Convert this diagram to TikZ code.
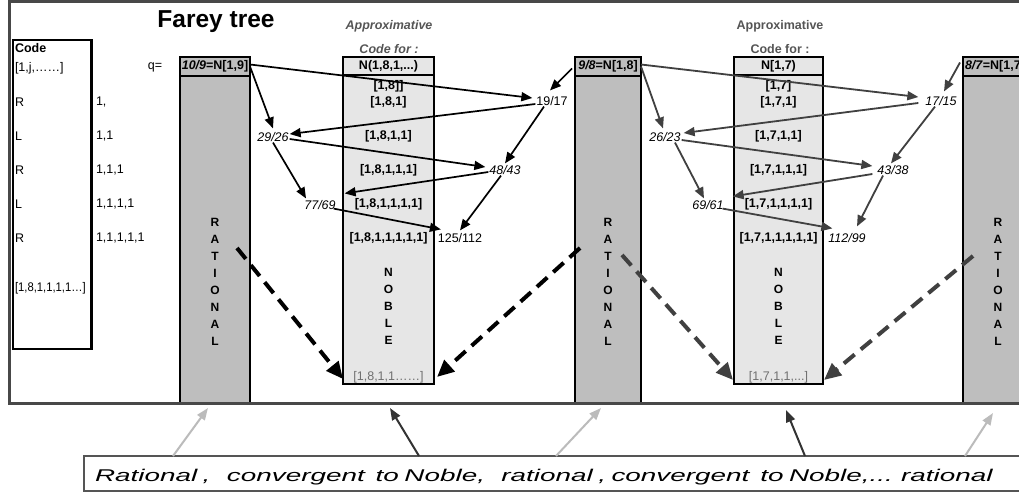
\documentclass[tikz,border=0pt]{standalone}
\usepackage{fontspec}
\setmainfont{Liberation Sans}
\usetikzlibrary{arrows.meta}

\definecolor{ratfill}{HTML}{BEBEBE}
\definecolor{noblefill}{HTML}{E6E6E6}
\definecolor{framegray}{HTML}{484848}
\definecolor{darkline}{HTML}{404040}
\definecolor{lightarrow}{HTML}{BBBBBB}
\definecolor{capdark}{HTML}{333333}
\definecolor{labelgray}{HTML}{555555}
\definecolor{limitgray}{HTML}{707070}

\newcommand{\fs}[1]{\fontsize{#1}{#1}\selectfont}

\begin{document}
\begin{tikzpicture}[x=1pt,y=-1pt,
  every node/.style={inner sep=0pt, outer sep=0pt},
  ratbox/.style={draw=black, line width=2pt, fill=ratfill, anchor=north west},
  noblebox/.style={draw=black, line width=2.5pt, fill=noblefill, anchor=north west},
  codetext/.style={anchor=west, font=\fs{12.5}},
  cell/.style={font=\fs{12.5}\bfseries},
  frac/.style={font=\fs{12.5}, inner sep=1pt},
  ifrac/.style={font=\fs{12.5}\itshape, inner sep=1pt},
  vword/.style={font=\fontsize{12}{17}\selectfont\bfseries, align=center},
  headlabel/.style={font=\fs{12.5}\bfseries, text=labelgray},
  link/.style={draw=black, line width=1.7pt, -{Triangle[length=11pt,width=9pt]}},
  linkgray/.style={draw=darkline, line width=1.8pt, -{Triangle[length=11pt,width=9pt]}},
  flow/.style={line width=4pt, dash pattern=on 14pt off 8pt, -{Triangle[length=17pt,width=15pt]}},
  pointer/.style={line width=2pt, -{Triangle[length=12pt,width=9pt]}},
]
\useasboundingbox (0,0) rectangle (1019,495);
\clip (0,0) rectangle (1019,495);
\fill[white] (0,0) rectangle (1019,495);

% ---------- rational columns ----------
\node[ratbox, minimum width=70pt, minimum height=328pt] (r1) at (180,76) {};
\node[ratbox, minimum width=66pt, minimum height=328pt] (r2) at (575,76) {};
\node[ratbox, minimum width=100pt, minimum height=328pt] (r3) at (963,76) {};
\node[ratbox, minimum width=70pt, minimum height=19pt] (r1h) at (180,57) {};
\node[ratbox, minimum width=66pt, minimum height=19pt] (r2h) at (575,57) {};
\node[ratbox, minimum width=100pt, minimum height=19pt] (r3h) at (963,57) {};
\node[cell] (r1t) at (215,66.5) {\textit{10/9}=N[1,9]};
\node[cell] (r2t) at (608,66.5) {\textit{9/8}=N[1,8]};
\node[cell, anchor=west] (r3t) at (965,66.5) {\textit{8/7}=N[1,7]};
\node[vword] (r1w) at (215,282) {R\\A\\T\\I\\O\\N\\A\\L};
\node[vword] (r2w) at (608,282) {R\\A\\T\\I\\O\\N\\A\\L};
\node[vword] (r3w) at (998,282) {R\\A\\T\\I\\O\\N\\A\\L};

% ---------- noble columns ----------
\node[noblebox, minimum width=91pt, minimum height=309pt] (n1) at (343,75) {};
\node[noblebox, minimum width=89pt, minimum height=309pt] (n2) at (734,75) {};
\node[noblebox, minimum width=91pt, minimum height=18pt] (n1h) at (343,57) {};
\node[noblebox, minimum width=89pt, minimum height=18pt] (n2h) at (734,57) {};
\node[cell] (n1t) at (388.5,66) {N(1,8,1,...)};
\node[cell] (n2t) at (778.5,66) {N[1,7)};

\node[headlabel, font=\fs{12.5}\bfseries\itshape] (a1) at (389,26) {Approximative};
\node[headlabel, font=\fs{12.5}\bfseries\itshape] (b1) at (389,49) {Code for :};
\node[headlabel] (a2) at (780,26) {Approximative};
\node[headlabel] (b2) at (780,49) {Code for :};

\node[cell] (n1c0) at (388.5,86) {[1,8]]};
\node[cell] (n1c1) at (388.5,102) {[1,8,1]};
\node[cell] (n1c2) at (388.5,136) {[1,8,1,1]};
\node[cell] (n1c3) at (388.5,170) {[1,8,1,1,1]};
\node[cell] (n1c4) at (388.5,204) {[1,8,1,1,1,1]};
\node[cell] (n1c5) at (388.5,238) {[1,8,1,1,1,1,1]};
\node[vword] (n1w) at (388.5,306) {N\\O\\B\\L\\E};
\node[font=\fs{12.5}, text=limitgray] (n1lim) at (388.5,377) {[1,8,1,1\ldots\ldots]};

\node[cell] (n2c0) at (778.5,86) {[1,7]};
\node[cell] (n2c1) at (778.5,102) {[1,7,1]};
\node[cell] (n2c2) at (778.5,136) {[1,7,1,1]};
\node[cell] (n2c3) at (778.5,170) {[1,7,1,1,1]};
\node[cell] (n2c4) at (778.5,204) {[1,7,1,1,1,1]};
\node[cell] (n2c5) at (778.5,238) {[1,7,1,1,1,1,1]};
\node[vword] (n2w) at (778.5,306) {N\\O\\B\\L\\E};
\node[font=\fs{12.5}, text=limitgray] (n2lim) at (778.5,377) {[1,7,1,1,...]};

% ---------- outer frame and title ----------
\draw[framegray, line width=3pt] (9.5,2) rectangle (1060,403.5);
\node[font=\fs{24.5}\bfseries] (title) at (216,22) {Farey tree};

% ---------- code table ----------
\draw[black, line width=2.5pt] (13,40) rectangle (91.5,349);
\node[codetext, font=\fs{12.5}\bfseries] (ch) at (15,48) {Code};
\node[codetext] (c0) at (15,68) {[1,j,\ldots\ldots]};
\node[codetext] (c1) at (15,102) {R};
\node[codetext] (c2) at (15,136) {L};
\node[codetext] (c3) at (15,170) {R};
\node[codetext] (c4) at (15,204) {L};
\node[codetext] (c5) at (15,238) {R};
\node[codetext] (c6) at (15,288) {\scalebox{0.9}[1]{[1,8,1,1,1,1\ldots]}};
\node[codetext] (s1) at (96,102) {1,};
\node[codetext] (s2) at (96,136) {1,1};
\node[codetext] (s3) at (96,170) {1,1,1};
\node[codetext] (s4) at (96,204) {1,1,1,1};
\node[codetext] (s5) at (96,238) {1,1,1,1,1};
\node[font=\fs{12.5}] (q) at (155,67) {q=};

% ---------- fractions ----------
\node[frac]  (f1917) at (552,101) {19/17};
\node[ifrac] (f2926) at (273,137) {29/26};
\node[ifrac] (f4843) at (505,170) {48/43};
\node[ifrac] (f7769) at (320,205) {77/69};
\node[frac]  (f125)  at (460,238) {125/112};

\node[ifrac] (f1715) at (941,101) {17/15};
\node[ifrac] (f2623) at (665,137) {26/23};
\node[ifrac] (f4338) at (893,170) {43/38};
\node[ifrac] (f6961) at (708,205) {69/61};
\node[ifrac] (f11299) at (847,238) {112/99};

% ---------- mediant steps, first interval ----------
\draw[link] ([yshift=2pt]r1h.east) -- ([xshift=-3pt,yshift=3pt]f1917.west);
\draw[link] (r1h.east) -- ([yshift=3pt]f2926.north);
\draw[link] ([yshift=-3pt]f1917.west) -- ([yshift=3pt]f2926.east);
\draw[link] ([yshift=-2pt]f2926.east) -- ([xshift=-3pt,yshift=3pt]f4843.west);
\draw[link] ([xshift=-8pt]f1917.south) -- ([yshift=1pt]f4843.north);
\draw[link] (f2926.south) -- ([xshift=-14pt,yshift=1pt]f7769.north);
\draw[link] ([yshift=-2pt]f4843.west) -- ([xshift=8pt,yshift=6pt]f7769.north east);
\draw[link] ([xshift=-3pt,yshift=2pt]f7769.south east) -- ([xshift=4pt,yshift=3pt]f125.north west);
\draw[link] ([xshift=-4pt]f4843.south) -- ([yshift=2pt]f125.north);
\draw[link] ([xshift=-3pt,yshift=-2pt]r2h.west) -- ([xshift=-2pt,yshift=5pt]f1917.north);

% ---------- mediant steps, second interval ----------
\draw[linkgray] ([yshift=2pt]r2h.east) -- ([xshift=-6pt,yshift=4pt]f1715.west);
\draw[linkgray] (r2h.east) -- ([xshift=-2pt,yshift=3pt]f2623.north);
\draw[linkgray] ([xshift=-6pt,yshift=-2pt]f1715.west) -- ([xshift=2pt,yshift=4pt]f2623.east);
\draw[linkgray] ([yshift=-3pt]f2623.east) -- ([xshift=-4pt,yshift=4pt]f4338.west);
\draw[linkgray] ([xshift=-6pt]f1715.south) -- ([xshift=-2pt,yshift=1pt]f4338.north);
\draw[linkgray] ([xshift=10pt]f2623.south) -- ([xshift=-4pt,yshift=1pt]f6961.north);
\draw[linkgray] ([xshift=-4pt,yshift=-4pt]f4338.west) -- ([xshift=8pt,yshift=3pt]f6961.north east);
\draw[linkgray] ([xshift=-2pt,yshift=2pt]f6961.south east) -- ([xshift=5pt,yshift=4pt]f11299.north west);
\draw[linkgray] ([xshift=-10pt]f4338.south) -- ([xshift=10pt,yshift=6pt]f11299.north);
\draw[linkgray] ([xshift=-3pt,yshift=4pt]r3h.west) -- ([xshift=3pt,yshift=4pt]f1715.north);

% ---------- limits of the rationals ----------
\coordinate (d1) at (237,248);
\coordinate (d2) at (580,248);
\coordinate (d3) at (622,255);
\coordinate (d4) at (973,256);
\draw[flow, black] (d1) -- ([yshift=5pt]n1.south west);
\draw[flow, black] (d2) -- ([xshift=3pt,yshift=7pt]n1.south east);
\draw[flow, darkline] (d3) -- ([xshift=-1pt,yshift=4pt]n2.south west);
\draw[flow, darkline] (d4) -- ([xshift=1pt,yshift=4pt]n2.south east);

% ---------- caption ----------
\node[draw=labelgray, line width=1.3pt, anchor=north west, minimum height=35pt,
      inner xsep=11pt, text width=1000pt, align=left,
      text height=16.4pt, text depth=0pt] (cap) at (84,456)
  {\fs{17}\itshape\scalebox{1.64}[1]{Rational ,\ \ \ convergent\ \ to Noble,\ \ \ rational , convergent\ \ to Noble,... rational}};

\coordinate (t1) at (208,408);
\coordinate (t2) at (390,408);
\coordinate (t3) at (601,408);
\coordinate (t4) at (786,410);
\coordinate (t5) at (993,413);
\draw[pointer, lightarrow] ([xshift=89pt]cap.north west) -- (t1);
\draw[pointer, capdark] ([xshift=335pt]cap.north west) -- (t2);
\draw[pointer, lightarrow] ([xshift=472pt]cap.north west) -- (t3);
\draw[pointer, capdark] ([xshift=721pt]cap.north west) -- (t4);
\draw[pointer, lightarrow] ([xshift=881pt]cap.north west) -- (t5);
\end{tikzpicture}
\end{document}
